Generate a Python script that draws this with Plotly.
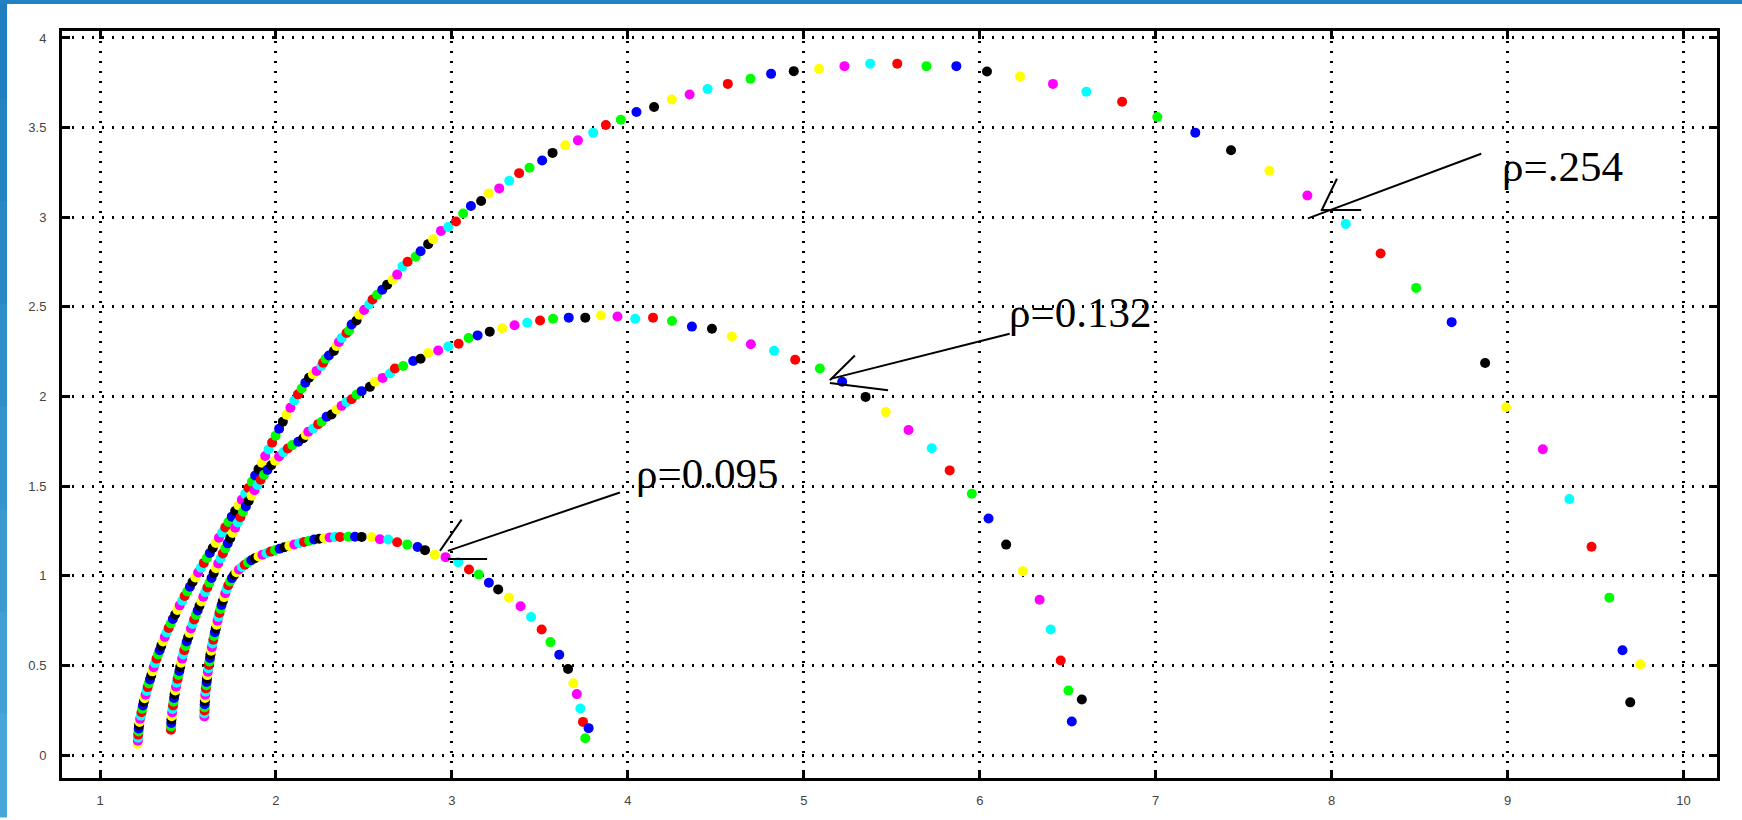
import plotly.graph_objects as go

# ---------------- data ----------------
RHO254_X = [1.214,1.215,1.216,1.217,1.219,1.220,1.222,1.225,1.228,1.232,1.236,1.240,1.244,1.249,1.254,1.259,1.265,1.271,1.277,1.284,
            1.291,1.298,1.305,1.313,1.321,1.330,1.339,1.348,1.358,1.368,1.379,1.390,1.402,1.414,1.427,1.440,1.453,1.467,1.481,1.496,
            1.511,1.526,1.542,1.558,1.574,1.590,1.607,1.624,1.641,1.658,1.676,1.694,1.712,1.730,1.749,1.768,1.787,1.806,1.825,1.844,
            1.863,1.882,1.901,1.920,1.939,1.958,1.978,1.998,2.018,2.039,2.060,2.082,2.104,2.125,2.146,2.167,2.188,2.210,
            2.231,2.259,2.268,2.282,2.301,2.329,2.344,2.358,2.373,2.401,2.416,2.430,2.458,2.473,2.501,2.530,2.549,2.575,2.604,2.632,
            2.663,2.689,2.719,2.748,2.794,2.822,2.865,2.893,2.938,2.979,
            3.023,3.064,3.108,3.166,3.210,3.269,3.326,3.382,3.441,3.513,3.572,3.644,3.716,3.803,3.875,3.960,4.049,4.149,4.250,4.351,
            4.453,4.568,4.697,4.814,4.943,5.087,5.231,5.377,5.531,5.697,5.867,6.041,6.229,6.416,6.606,6.809,7.009,7.225,7.428,7.646,
            7.862,8.080,8.278,8.480,8.682,8.872,8.991,9.200,9.351,9.477,9.578,9.653,9.697,9.754]
RHO254_Y = [0.063,0.080,0.097,0.114,0.131,0.148,0.166,0.184,0.202,0.220,0.239,0.258,0.277,0.297,0.317,0.337,0.358,0.379,0.400,0.422,
            0.444,0.467,0.490,0.513,0.537,0.561,0.585,0.609,0.634,0.659,0.684,0.709,0.734,0.759,0.784,0.809,0.835,0.861,0.887,0.913,
            0.939,0.965,0.991,1.018,1.045,1.072,1.099,1.127,1.155,1.183,1.212,1.241,1.270,1.300,1.330,1.361,1.392,1.424,1.457,1.490,
            1.524,1.559,1.595,1.631,1.668,1.705,1.743,1.781,1.820,1.859,1.898,1.938,1.978,2.012,2.045,2.077,2.105,2.124,
            2.143,2.171,2.189,2.211,2.229,2.254,2.282,2.304,2.326,2.354,2.368,2.402,2.424,2.456,2.483,2.513,2.541,2.568,2.596,2.624,
            2.652,2.680,2.726,2.752,2.780,2.810,2.850,2.878,2.924,2.946,
            2.976,3.021,3.063,3.091,3.133,3.161,3.204,3.246,3.276,3.317,3.359,3.402,3.429,3.472,3.515,3.544,3.587,3.615,3.657,3.685,
            3.715,3.744,3.772,3.800,3.815,3.828,3.843,3.857,3.857,3.843,3.843,3.813,3.785,3.744,3.700,3.644,3.559,3.472,3.374,3.259,
            3.121,2.963,2.798,2.606,2.415,2.187,1.940,1.706,1.428,1.162,0.878,0.585,0.294,0.507]

RHO132_X = [1.403,1.404,1.405,1.406,1.408,1.410,1.412,1.415,1.418,1.421,1.424,1.428,1.432,1.436,1.441,1.446,1.451,1.456,1.461,1.467,
            1.473,1.479,1.486,1.493,1.501,1.509,1.517,1.526,1.535,1.545,1.555,1.565,1.576,1.587,1.598,1.610,1.622,1.634,1.646,1.659,
            1.672,1.685,1.698,1.712,1.726,1.740,1.754,1.768,1.783,1.798,1.813,1.829,1.845,1.861,1.878,1.895,1.913,1.932,1.952,1.973,
            1.995,2.018,2.042,2.067,2.093,
            2.127,2.155,2.170,2.184,2.212,2.240,2.260,2.288,2.316,2.345,2.373,2.401,2.430,2.458,2.487,2.534,2.563,2.606,2.648,2.676,
            2.723,2.780,2.822,2.865,2.922,2.979,3.038,3.095,3.146,3.215,3.285,3.356,3.428,3.501,3.575,3.664,3.758,3.847,3.941,4.042,
            4.143,4.251,4.364,4.478,4.591,4.699,4.831,4.951,5.091,5.218,5.351,5.466,5.595,5.727,5.829,5.955,6.050,6.150,6.245,6.340,
            6.403,6.460,6.504,6.523,6.580]
RHO132_Y = [0.141,0.160,0.179,0.198,0.217,0.237,0.257,0.277,0.297,0.318,0.339,0.360,0.381,0.403,0.425,0.447,0.469,0.492,0.515,0.538,
            0.561,0.585,0.609,0.633,0.657,0.681,0.706,0.731,0.756,0.781,0.806,0.831,0.857,0.883,0.909,0.935,0.961,0.988,1.015,1.042,
            1.069,1.097,1.125,1.153,1.181,1.210,1.239,1.268,1.297,1.327,1.357,1.387,1.417,1.447,1.477,1.507,1.536,1.564,1.591,1.617,
            1.642,1.666,1.689,1.710,1.729,
            1.748,1.767,1.785,1.804,1.822,1.846,1.859,1.887,1.900,1.928,1.948,1.970,1.985,2.011,2.030,2.054,2.082,2.104,2.128,2.156,
            2.170,2.198,2.211,2.243,2.257,2.279,2.294,2.326,2.341,2.362,2.381,2.398,2.412,2.424,2.434,2.440,2.440,2.452,2.446,2.434,
            2.440,2.421,2.390,2.378,2.335,2.292,2.255,2.205,2.156,2.082,1.998,1.913,1.813,1.711,1.588,1.458,1.320,1.174,1.026,0.866,
            0.700,0.527,0.360,0.187,0.310]

RHO095_X = [1.593,1.593,1.594,1.594,1.595,1.596,1.597,1.598,1.600,1.602,1.604,1.606,1.608,1.610,1.613,1.616,1.619,1.622,1.625,1.628,
            1.632,1.636,1.640,1.644,1.648,1.653,1.658,1.663,1.668,1.673,1.679,1.685,1.691,1.698,1.705,1.712,1.720,1.729,1.739,1.750,
            1.762,1.775,1.790,1.806,1.823,1.841,1.860,1.880,1.901,1.923,1.946,1.970,1.995,2.021,2.048,2.076,2.104,2.132,2.160,2.189,
            2.217,2.246,2.275,2.305,2.335,2.364,2.411,2.449,2.487,2.544,2.591,2.638,2.689,2.746,2.805,2.847,2.903,2.964,3.036,3.097,
            3.153,3.210,3.263,3.324,3.390,3.450,3.510,3.560,3.610,3.660,3.690,3.710,3.730,3.745,3.758,3.777]
RHO095_Y = [0.215,0.232,0.249,0.266,0.283,0.300,0.318,0.336,0.354,0.372,0.390,0.408,0.427,0.446,0.465,0.484,0.503,0.522,0.542,0.562,
            0.582,0.602,0.622,0.643,0.664,0.685,0.706,0.727,0.749,0.771,0.793,0.815,0.837,0.859,0.881,0.903,0.925,0.947,0.968,0.987,
            1.004,1.020,1.035,1.049,1.062,1.075,1.087,1.098,1.108,1.117,1.126,1.135,1.143,1.151,1.159,1.167,1.175,1.182,1.189,1.196,
            1.202,1.207,1.211,1.214,1.216,1.217,1.218,1.218,1.217,1.216,1.204,1.202,1.187,1.174,1.161,1.143,1.118,1.104,1.076,1.035,
            1.007,0.961,0.924,0.878,0.830,0.770,0.700,0.630,0.560,0.480,0.400,0.340,0.260,0.185,0.094,0.150]

LABELS = ["ρ=.254", "ρ=0.132", "ρ=0.095"]
LABEL_X = [9.313, 6.568, 4.452]
LABEL_Y = [3.281, 2.467, 1.572]

# arrow strokes (x0, y0, x1, y1) in data units
ARROW_LINES = [
    (8.850, 3.354, 7.865, 2.994), (8.030, 3.215, 7.941, 3.035), (7.941, 3.040, 8.168, 3.040),
    (6.170, 2.350, 5.157, 2.100), (5.290, 2.229, 5.148, 2.091), (5.148, 2.076, 5.479, 2.035),
    (3.955, 1.465, 2.977, 1.139), (3.055, 1.313, 2.932, 1.139), (2.977, 1.094, 3.200, 1.094),
]

X_TICKS = [1, 2, 3, 4, 5, 6, 7, 8, 9, 10]
Y_TICKS = [0, 0.5, 1, 1.5, 2, 2.5, 3, 3.5, 4]
Y_TICK_TEXT = ["0", "0.5", "1", "1.5", "2", "2.5", "3", "3.5", "4"]

# ---------------- style ----------------
CYCLE = ['#ff0000', '#00ff00', '#0000ff', '#000000', '#ffff00', '#ff00ff', '#00ffff']


def cycle_colors(n, last_idx):
    return [CYCLE[(last_idx - (n - 1 - i)) % 7] for i in range(n)]


fig = go.Figure()
for xs, ys, last in [(RHO254_X, RHO254_Y, 4), (RHO132_X, RHO132_Y, 3), (RHO095_X, RHO095_Y, 2)]:
    fig.add_trace(go.Scatter(
        x=xs, y=ys, mode='markers',
        marker=dict(size=10, color=cycle_colors(len(xs), last), line=dict(width=0)),
        showlegend=False, hoverinfo='x+y'))

shapes = []
for (x0, y0, x1, y1) in ARROW_LINES:
    shapes.append(dict(type='line', xref='x', yref='y', x0=x0, y0=y0, x1=x1, y1=y1,
                       line=dict(color='black', width=2)))

# blue frame of the page: left bar with gradient, top bar
LEFT_BAR_COLORS = ['#1f7ec0', '#2383c3', '#2888c6', '#2e8ec9', '#3494cd', '#3a9ad0', '#40a0d4', '#46a6d8']
seg = 820 / len(LEFT_BAR_COLORS)
for k, c in enumerate(LEFT_BAR_COLORS):
    top = 781 - k * seg
    shapes.append(dict(type='rect', xref='paper', yref='paper', xsizemode='pixel', ysizemode='pixel',
                       xanchor=0, yanchor=0, x0=-62, x1=-55, y0=top - seg - 0.5, y1=top + 0.5,
                       fillcolor=c, line=dict(width=0), layer='above'))
shapes.append(dict(type='rect', xref='paper', yref='paper', xsizemode='pixel', ysizemode='pixel',
                   xanchor=0, yanchor=1, x0=-62, x1=1690, y0=27, y1=32,
                   fillcolor='#2383c2', line=dict(width=0), layer='above'))

annotations = []
for t, x, y in zip(LABELS, LABEL_X, LABEL_Y):
    annotations.append(dict(x=x, y=y, xref='x', yref='y', text=t, showarrow=False,
                            xanchor='center', yanchor='middle',
                            font=dict(family='Liberation Serif, Times New Roman, serif', size=43, color='black')))

axis_common = dict(showline=True, linecolor='black', linewidth=3, mirror='ticks',
                   ticks='inside', ticklen=8, tickwidth=3, tickcolor='black',
                   showgrid=True, gridcolor='black', gridwidth=2.5, griddash='2px,8px',
                   zeroline=False,
                   tickfont=dict(family='Liberation Sans, Arial, sans-serif', size=13, color='#444'))

fig.update_layout(
    width=1742, height=820,
    margin=dict(l=62, r=25, t=31, b=39, pad=0),
    paper_bgcolor='white', plot_bgcolor='white',
    xaxis=dict(range=[0.784, 10.19], tickvals=X_TICKS, ticklabelstandoff=8, **axis_common),
    yaxis=dict(range=[-0.128, 4.039], tickvals=Y_TICKS, ticktext=Y_TICK_TEXT, ticklabelstandoff=10, **axis_common),
    shapes=shapes, annotations=annotations,
)

fig.write_html("out.html")
